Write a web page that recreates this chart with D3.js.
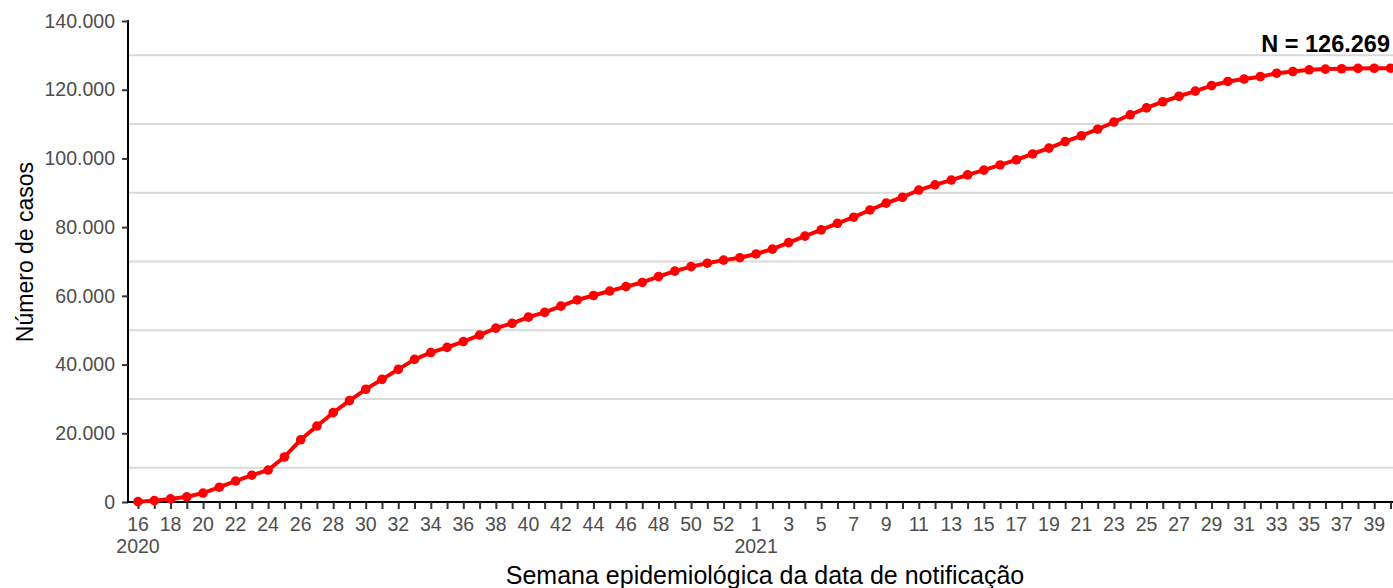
<!DOCTYPE html>
<html>
<head>
<meta charset="utf-8">
<script src="https://cdn.jsdelivr.net/npm/d3@7"></script>
<style>
  body { margin: 0; background: #fff; }
  svg { display: block; font-family: "Liberation Sans", Arial, sans-serif; }
</style>
</head>
<body>
<div id="chart"></div>
<script>
// Epidemiological weeks: 2020 wk 16..53, 2021 wk 1..40
let weeks2020 = d3.range(16, 54);
let weeks2021 = d3.range(1, 41);

// Cumulative cases per week
let cases2020 = [100, 400, 900, 1500, 2600, 4300, 6100, 7800, 9300, 13100,
                 18100, 22100, 26000, 29500, 32800, 35700, 38600, 41500, 43500, 45000,
                 46700, 48600, 50600, 52000, 53800, 55200, 57000, 58800, 60100, 61400,
                 62700, 63900, 65600, 67200, 68500, 69500, 70400, 71100];
let cases2021 = [72200, 73600, 75500, 77400, 79200, 81100, 82900, 85000, 87000, 88700,
                 90800, 92300, 93700, 95200, 96600, 98100, 99600, 101300, 103000, 104900,
                 106600, 108500, 110600, 112700, 114700, 116500, 118100, 119600, 121200, 122400,
                 123100, 123800, 124800, 125300, 125800, 126000, 126100, 126200, 126250, 126269];

let yTicks = [0, 20000, 40000, 60000, 80000, 100000, 120000, 140000];
let yGrid = [10000, 30000, 50000, 70000, 90000, 110000, 130000];
let totalLabel = "N = 126.269";

let data = weeks2020.map((w, i) => ({ key: "2020-" + w, year: 2020, week: w, value: cases2020[i] }))
  .concat(weeks2021.map((w, i) => ({ key: "2021-" + w, year: 2021, week: w, value: cases2021[i] })));

////////////////////////////////////////////////////////////////////////
// layout

let width = 1393, height = 588;
let axisX = 128, axisY = 502, topY = 21;

let xScale = d3.scalePoint().domain(data.map(d => d.key)).range([138, 1390.5]);
let yScale = d3.scaleLinear().domain([0, 140000]).range([axisY, topY]);

let fmt = d3.formatLocale({ decimal: ",", thousands: ".", grouping: [3], currency: ["R$", ""] }).format(",d");

let svg = d3.select("#chart").append("svg")
  .attr("width", width)
  .attr("height", height);

// grid lines (only the minor ones are visible)
svg.append("g")
  .selectAll("line")
  .data(yGrid)
  .enter()
  .append("line")
  .attr("x1", axisX)
  .attr("x2", width)
  .attr("y1", d => yScale(d))
  .attr("y2", d => yScale(d))
  .attr("stroke", "#d9d9d9")
  .attr("stroke-width", 2);

// y axis
let yAxis = svg.append("g")
  .attr("transform", "translate(" + axisX + ",0)")
  .call(d3.axisLeft(yScale).tickValues(yTicks).tickFormat(fmt).tickSize(6).tickPadding(7));
yAxis.select(".domain").attr("stroke", "#000").attr("stroke-width", 2).attr("d", "M0," + (topY - 1) + "V" + (axisY + 1));
yAxis.selectAll(".tick line").attr("stroke", "#333").attr("stroke-width", 2);
yAxis.selectAll(".tick text").attr("fill", "#4d4d4d").attr("font-size", 19.5);

// x axis
let xAxis = svg.append("g")
  .attr("transform", "translate(0," + axisY + ")")
  .call(d3.axisBottom(xScale).tickSize(7).tickFormat(""));
xAxis.select(".domain").attr("stroke", "#000").attr("stroke-width", 2).attr("d", "M" + (axisX - 1) + ",0H" + width);
xAxis.selectAll(".tick line").attr("stroke", "#333").attr("stroke-width", 2);

let labelled = data.filter((d, i) => i % 2 === 0);
let xLabels = svg.append("g")
  .selectAll("text")
  .data(labelled)
  .enter()
  .append("text")
  .attr("x", d => xScale(d.key))
  .attr("y", 531)
  .attr("text-anchor", "middle")
  .attr("fill", "#4d4d4d")
  .attr("font-size", 19.5);
xLabels.append("tspan")
  .attr("x", d => xScale(d.key))
  .text(d => d.week);
xLabels.filter(d => d.week === 16 && d.year === 2020 || d.week === 1 && d.year === 2021)
  .append("tspan")
  .attr("x", d => xScale(d.key))
  .attr("dy", 22)
  .text(d => d.year);

// axis titles
svg.append("text")
  .attr("x", 765)
  .attr("y", 584)
  .attr("text-anchor", "middle")
  .attr("font-size", 25)
  .attr("fill", "#000")
  .text("Semana epidemiológica da data de notificação");

svg.append("text")
  .attr("transform", "translate(33,252) rotate(-90)")
  .attr("text-anchor", "middle")
  .attr("font-size", 23)
  .attr("fill", "#000")
  .text("Número de casos");

// line + points
let line = d3.line()
  .x(d => xScale(d.key))
  .y(d => yScale(d.value));

svg.append("path")
  .datum(data)
  .attr("d", line)
  .attr("fill", "none")
  .attr("stroke", "#ff0000")
  .attr("stroke-width", 4)
  .attr("stroke-linejoin", "round");

svg.append("g")
  .selectAll("circle")
  .data(data)
  .enter()
  .append("circle")
  .attr("cx", d => xScale(d.key))
  .attr("cy", d => yScale(d.value))
  .attr("r", 4.8)
  .attr("fill", "#ff0000");

// total annotation
svg.append("text")
  .attr("x", 1390)
  .attr("y", 52)
  .attr("text-anchor", "end")
  .attr("font-size", 23.5)
  .attr("font-weight", "bold")
  .attr("fill", "#000")
  .text(totalLabel);
</script>
</body>
</html>
